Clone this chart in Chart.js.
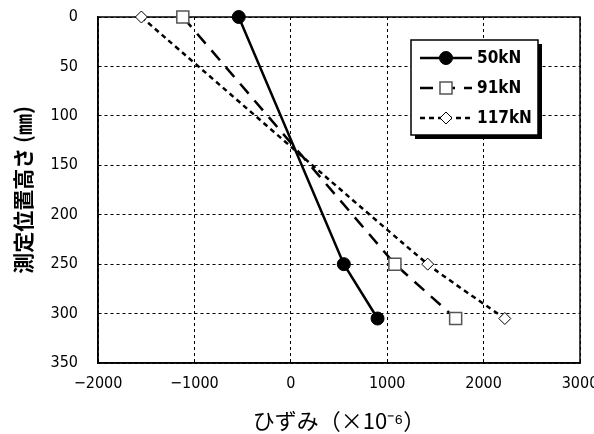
<!DOCTYPE html>
<html>
<head>
<meta charset="utf-8">
<script src="https://cdn.jsdelivr.net/npm/chart.js@4"></script>
<style>
    html, body { margin: 0; padding: 0; background: #ffffff; }
    #wrap { width: 594px; height: 434px; }
</style>
</head>
<body>
<div id="wrap"><canvas id="hizumiChart" width="594" height="434"></canvas></div>
<script>

const ETIQUETAS = ["50kN", "91kN", "117kN"];

const ALTURAS = [0, 250, 305];

const HIZUMI_50 = [-540, 550, 900];
const HIZUMI_91 = [-1120, 1080, 1710];
const HIZUMI_117 = [-1550, 1420, 2220];

const TICKS_X = [-2000, -1000, 0, 1000, 2000, 3000];
const TICKS_Y = [0, 50, 100, 150, 200, 250, 300, 350];

const FUENTE = "'DejaVu Sans Condensed', 'Liberation Sans Narrow', sans-serif";
const FUENTE_JP = "'Noto Sans CJK JP', sans-serif";

function puntos(xs) {
    return xs.map((x, i) => ({ x: x, y: ALTURAS[i] }));
}

// dibuja el marcador como en la serie (mismo tamaño que Chart.js)
function dibujarMarcador(ctx, ds, x, y) {
    ctx.save();
    ctx.setLineDash([]);
    ctx.fillStyle = ds.pointBackgroundColor;
    ctx.strokeStyle = ds.pointBorderColor;
    ctx.lineWidth = ds.pointBorderWidth;
    const r = ds.pointRadius;
    ctx.beginPath();
    if (ds.pointStyle === "circle") {
        ctx.arc(x, y, r, 0, Math.PI * 2);
    } else if (ds.pointStyle === "rect") {
        const s = r * Math.SQRT1_2;
        ctx.rect(x - s, y - s, s * 2, s * 2);
    } else {
        ctx.moveTo(x, y - r);
        ctx.lineTo(x + r, y);
        ctx.lineTo(x, y + r);
        ctx.lineTo(x - r, y);
        ctx.closePath();
    }
    ctx.fill();
    ctx.stroke();
    ctx.restore();
}

// marco del área de trazado
const marco = {
    id: "marco",
    beforeDatasetsDraw(chart) {
        const a = chart.chartArea;
        const ctx = chart.ctx;
        ctx.save();
        ctx.strokeStyle = "#000000";
        ctx.lineWidth = 1.5;
        ctx.strokeRect(a.left, a.top, a.right - a.left, a.bottom - a.top);
        ctx.restore();
    }
};

const leyendaCaja = {
    id: "leyendaCaja",
    afterDraw(chart) {
        const ctx = chart.ctx;
        const area = chart.chartArea;
        const x0 = area.right - 169;
        const y0 = area.top + 23;
        const w = 127;
        const h = 95;

        ctx.save();
        ctx.fillStyle = "#000000";
        ctx.fillRect(x0 + 4, y0 + 4, w, h);
        ctx.fillStyle = "#ffffff";
        ctx.fillRect(x0, y0, w, h);
        ctx.strokeStyle = "#000000";
        ctx.lineWidth = 1.5;
        ctx.strokeRect(x0, y0, w, h);

        chart.data.datasets.forEach((ds, i) => {
            const y = y0 + 18 + i * 30;
            const xa = x0 + 9;
            const xb = x0 + 61;
            ctx.strokeStyle = ds.borderColor;
            ctx.lineWidth = ds.borderWidth;
            ctx.setLineDash(ds.borderDash || []);
            ctx.beginPath();
            ctx.moveTo(xa, y);
            ctx.lineTo(xb, y);
            ctx.stroke();
            dibujarMarcador(ctx, ds, (xa + xb) / 2, y);

            ctx.setLineDash([]);
            ctx.fillStyle = "#000000";
            ctx.font = "bold 17px " + FUENTE;
            ctx.textAlign = "left";
            ctx.textBaseline = "middle";
            ctx.fillText(ds.label, x0 + 66, y + 1);
        });
        ctx.restore();
    }
};

const ctx = document.getElementById("hizumiChart");

new Chart(ctx, {

    type: "scatter",

    data: {
        datasets: [
            {
                label: ETIQUETAS[0],
                data: puntos(HIZUMI_50),
                showLine: true,
                clip: false,
                borderColor: "#000000",
                borderWidth: 2.5,
                pointStyle: "circle",
                pointRadius: 6.5,
                pointBackgroundColor: "#000000",
                pointBorderColor: "#000000",
                pointBorderWidth: 1
            },
            {
                label: ETIQUETAS[1],
                data: puntos(HIZUMI_91),
                showLine: true,
                clip: false,
                borderColor: "#000000",
                borderWidth: 2.5,
                borderDash: [13, 9],
                pointStyle: "rect",
                pointRadius: 8.5,
                pointBackgroundColor: "#ffffff",
                pointBorderColor: "#555555",
                pointBorderWidth: 1.5
            },
            {
                label: ETIQUETAS[2],
                data: puntos(HIZUMI_117),
                showLine: true,
                clip: false,
                tension: 0.15,
                borderColor: "#000000",
                borderWidth: 2.5,
                borderDash: [5, 4],
                pointStyle: "rectRot",
                pointRadius: 6,
                pointBackgroundColor: "#ffffff",
                pointBorderColor: "#000000",
                pointBorderWidth: 1
            }
        ]
    },

    options: {
        responsive: false,
        animation: false,
        layout: {
            padding: { top: 17, right: 14, bottom: 0, left: 10 }
        },
        plugins: {
            legend: { display: false },
            tooltip: { enabled: false }
        },
        scales: {
            x: {
                type: "linear",
                min: TICKS_X[0],
                max: TICKS_X[TICKS_X.length - 1],
                afterBuildTicks(scale) {
                    scale.ticks = TICKS_X.map(v => ({ value: v }));
                },
                afterFit(scale) {
                    scale.height = 71;
                    scale.paddingLeft = 0;
                    scale.paddingRight = 0;
                },
                border: { display: true, color: "#000000", width: 1.5, dash: [3, 3] },
                grid: {
                    color: "#000000",
                    lineWidth: 1,
                    drawTicks: false
                },
                ticks: {
                    padding: 11,
                    maxRotation: 0,
                    color: "#000000",
                    font: { size: 16, family: FUENTE },
                    callback: v => v < 0 ? "\u2212" + Math.abs(v) : String(v)
                },
                title: {
                    display: true,
                    text: "ひずみ（×10⁻⁶）",
                    color: "#000000",
                    padding: { top: 7, bottom: 0 },
                    font: { size: 22, family: FUENTE_JP }
                }
            },
            y: {
                type: "linear",
                reverse: true,
                min: TICKS_Y[0],
                max: TICKS_Y[TICKS_Y.length - 1],
                afterBuildTicks(scale) {
                    scale.ticks = TICKS_Y.map(v => ({ value: v }));
                },
                afterFit(scale) {
                    scale.width = 88;
                    scale.paddingTop = 0;
                    scale.paddingBottom = 0;
                },
                border: { display: true, color: "#000000", width: 1.5, dash: [3, 3] },
                grid: {
                    color: "#000000",
                    lineWidth: 1,
                    drawTicks: false
                },
                ticks: {
                    padding: 20,
                    color: "#000000",
                    font: { size: 16, family: FUENTE }
                },
                title: {
                    display: true,
                    text: "測定位置高さ (㎜)",
                    color: "#000000",
                    padding: { top: 0, bottom: 0 },
                    font: { size: 21, weight: "bold", family: FUENTE_JP }
                }
            }
        }
    },

    plugins: [marco, leyendaCaja]

});

</script>
</body>
</html>
